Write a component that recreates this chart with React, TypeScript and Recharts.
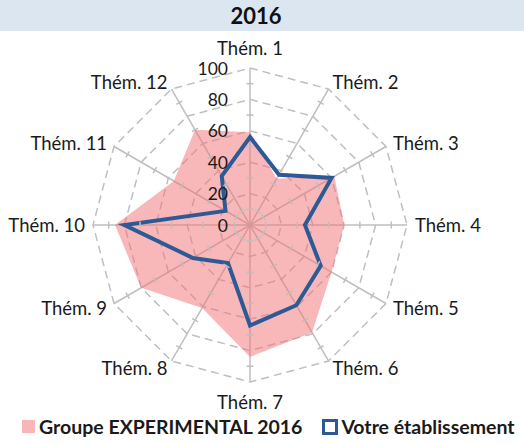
import React from "react";
import {
  RadarChart,
  Radar,
  PolarGrid,
  PolarAngleAxis,
  PolarRadiusAxis,
  Legend,
} from "recharts";

const themes = [
  "Thém. 1", "Thém. 2", "Thém. 3", "Thém. 4", "Thém. 5", "Thém. 6",
  "Thém. 7", "Thém. 8", "Thém. 9", "Thém. 10", "Thém. 11", "Thém. 12",
];
const groupeValues = [59, 34, 62, 60, 60, 79, 84, 61, 80, 86, 56, 70];
const etabValues = [56, 37, 60, 35, 52, 59, 64, 28, 42, 80, 18, 36];
const radiusTicks = [0, 20, 40, 60, 80, 100];
const minorTicks = [10, 30, 50, 70, 90];

const GROUPE = "Groupe EXPERIMENTAL 2016";
const ETAB = "Votre établissement";

const W = 524;
const H = 443;
const CX = 250;
const CY = 225;
const R = 157;
const MAX = 100;
const FONT = "Lato, 'Open Sans', sans-serif";
const GRID = "#bfbfbf";
const PINK = "#f8b6b7";
const BLUE = "#2d5a95";

const data = themes.map((t, i) => ({
  theme: t,
  groupe: groupeValues[i],
  etab: etabValues[i],
}));

// label + small cross marks on each spoke
const AngleTick = (props: any) => {
  const { index, payload } = props;
  const th = (index * 30 * Math.PI) / 180;
  const s = Math.sin(th);
  const c = Math.cos(th);
  const lr = 165;
  const x = CX + lr * s;
  let y = CY - lr * c;
  if (c > 0.95) y -= 12;
  if (c < -0.95) y += 12;
  const anchor = s > 0.1 ? "start" : s < -0.1 ? "end" : "middle";
  return (
    <g>
      {minorTicks.map((v) => {
        const r = (v / MAX) * R;
        const mx = CX + r * s;
        const my = CY - r * c;
        return (
          <line key={v} x1={mx - c * 3.5} y1={my - s * 3.5} x2={mx + c * 3.5} y2={my + s * 3.5} stroke={GRID} strokeWidth={1.5} />
        );
      })}
      <text x={x} y={y} textAnchor={anchor} dominantBaseline="central" fontSize={18.5} fill="#1a1a1a" fontFamily={FONT}>
        {payload.value}
      </text>
    </g>
  );
};

const RadiusLabel = (props: any) => {
  const { x, y, payload } = props;
  return (
    <text x={x - 22} y={y} textAnchor="end" dominantBaseline="central" fontSize={17.5} fill="#1a1a1a" fontFamily={FONT}>
      {payload.value}
    </text>
  );
};

const renderLegend = () => (
  <div style={{ display: "flex", alignItems: "center", fontFamily: FONT, fontWeight: 700, fontSize: 19.5, color: "#1a1a1a", whiteSpace: "nowrap" }}>
    <span style={{ flexShrink: 0, display: "inline-block", width: 13, height: 13, background: PINK, marginLeft: 22, marginRight: 4 }} />
    <span>{GROUPE}</span>
    <span style={{ flexShrink: 0, display: "inline-block", width: 10, height: 10, border: `3px solid ${BLUE}`, background: "#fff", marginLeft: 20, marginRight: 3 }} />
    <span>{ETAB}</span>
  </div>
);

export default function App() {
  return (
    <div style={{ position: "absolute", top: 0, left: 0, width: W, height: H, background: "#fff", fontFamily: FONT }}>
      <div style={{ position: "absolute", top: 0, left: 0, width: W, height: 31, background: "#dce6f1", textAlign: "center", lineHeight: "31px", fontSize: 22, fontWeight: 700, color: "#111" }}>
        <span style={{ position: "relative", left: -6 }}>2016</span>
      </div>
      <RadarChart
        width={W}
        height={H}
        data={data}
        cx={CX}
        cy={CY}
        outerRadius={R}
        margin={{ top: 0, right: 0, bottom: 0, left: 0 }}
        style={{ position: "absolute", top: 0, left: 0 }}
      >
        <Radar
          name={GROUPE}
          dataKey="groupe"
          stroke="none"
          fill="#f27072"
          fillOpacity={0.5}
          isAnimationActive={false}
        />
        <PolarGrid gridType="polygon" polarRadius={[0]} radialLines stroke={GRID} strokeWidth={1.5} />
        <PolarGrid
          gridType="polygon"
          polarRadius={radiusTicks.slice(1).map((v) => (v / MAX) * R)}
          radialLines={false}
          stroke={GRID}
          strokeWidth={1.5}
          strokeDasharray="8 5"
        />
        <PolarAngleAxis dataKey="theme" tick={AngleTick} tickLine={false} axisLine={false} />
        <PolarRadiusAxis angle={90} domain={[0, MAX]} ticks={radiusTicks} tick={RadiusLabel} axisLine={false} tickLine={false} />
        <Radar
          name={ETAB}
          dataKey="etab"
          stroke={BLUE}
          strokeWidth={4}
          fill="none"
          fillOpacity={0}
          isAnimationActive={false}
        />
        <Legend content={renderLegend} wrapperStyle={{ position: "absolute", top: 415, left: 0, width: W }} />
      </RadarChart>
    </div>
  );
}
